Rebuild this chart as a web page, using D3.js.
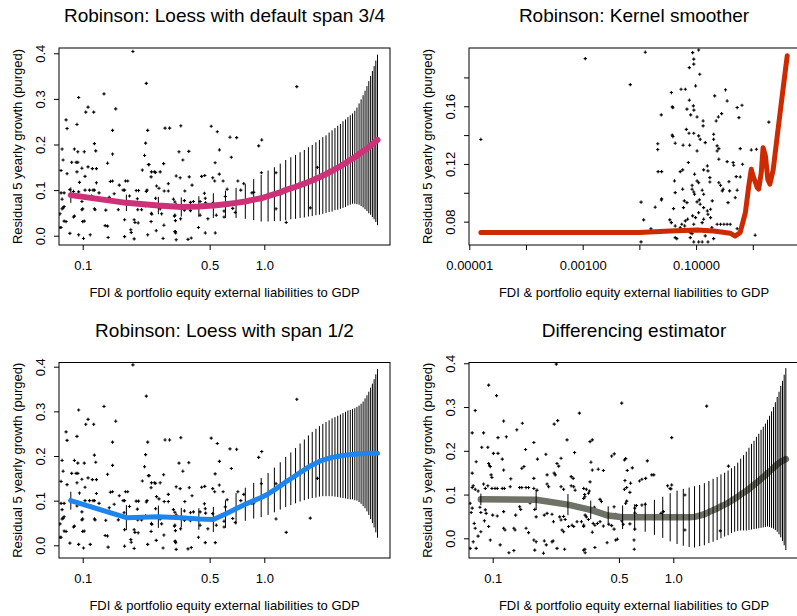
<!DOCTYPE html>
<html>
<head>
<meta charset="utf-8">
<script src="https://cdn.jsdelivr.net/npm/d3@7"></script>
<style>
  body { margin: 0; background: #fff; }
  svg { display: block; font-family: "Liberation Sans", Arial, sans-serif; }
</style>
</head>
<body>
<svg id="chart" width="797" height="616"></svg>
<script>
// ---------------- data ----------------
const panelTitles = [
  "Robinson: Loess with default span 3/4",
  "Robinson: Kernel smoother",
  "Robinson: Loess with span 1/2",
  "Differencing estimator"
];
const xAxisTitle = "FDI & portfolio equity external liabilities to GDP";
const yAxisTitle = "Residual 5 yearly growth (purged)";

// tick positions and labels
const xTicksMain = [0.1, 0.5, 1.0];
const xTickLabelsMain = ["0.1", "0.5", "1.0"];
const yTicksMain = [0.0, 0.1, 0.2, 0.3, 0.4];
const yTickLabelsMain = ["0.0", "0.1", "0.2", "0.3", "0.4"];
const xTicksKernel = [1e-5, 1e-4, 1e-3, 1e-2, 1e-1, 1];
const xTickLabelsKernel = ["0.00001", "", "0.00100", "", "0.10000", ""];
const yTicksKernel = [0.08, 0.10, 0.12, 0.14, 0.16, 0.18];
const yTickLabelsKernel = ["0.08", "", "0.12", "", "0.16", ""];

// evaluation grid of the fitted curves and their confidence bars
const gridX = [0.086,0.174,0.261,0.349,0.436,0.524,0.611,0.699,0.786,0.874,0.961,1.049,
  1.136,1.224,1.311,1.399,1.486,1.574,1.661,1.749,1.836,1.924,2.011,2.099,2.186,2.274,
  2.361,2.449,2.536,2.624,2.711,2.799,2.886,2.974,3.061,3.149,3.236,3.324,3.411,3.499,
  3.586,3.674,3.761,3.849,3.936,4.024,4.111,4.199];

// loess, span 3/4: fitted values and half-width of the bars
const fitSpan34 = [0.089,0.072,0.066,0.063,0.064,0.066,0.069,0.072,0.075,0.079,0.082,0.087,
  0.091,0.095,0.100,0.104,0.107,0.111,0.114,0.118,0.121,0.125,0.128,0.132,0.135,0.139,
  0.142,0.146,0.149,0.152,0.156,0.159,0.163,0.166,0.169,0.172,0.175,0.179,0.182,0.185,
  0.188,0.191,0.194,0.198,0.201,0.204,0.207,0.210];
const bandSpan34 = [0.017,0.018,0.019,0.021,0.0225,0.027,0.030,0.033,0.038,0.045,0.051,0.056,
  0.059,0.063,0.066,0.068,0.070,0.072,0.074,0.076,0.078,0.080,0.082,0.084,0.085,0.087,
  0.089,0.090,0.092,0.093,0.095,0.096,0.097,0.098,0.099,0.102,0.106,0.111,0.117,0.123,
  0.130,0.137,0.145,0.152,0.160,0.168,0.177,0.187];

// loess, span 1/2
const fitSpan12 = [0.100,0.062,0.064,0.062,0.059,0.058,0.070,0.082,0.092,0.100,0.107,0.115,
  0.124,0.133,0.142,0.149,0.156,0.163,0.169,0.175,0.180,0.184,0.188,0.191,0.193,0.195,
  0.197,0.198,0.199,0.200,0.201,0.202,0.203,0.203,0.204,0.204,0.205,0.205,0.205,0.205,
  0.206,0.206,0.206,0.206,0.206,0.206,0.206,0.206];
const bandSpan12 = [0.020,0.028,0.025,0.022,0.024,0.028,0.031,0.035,0.037,0.040,0.044,0.047,
  0.050,0.053,0.056,0.059,0.062,0.065,0.068,0.071,0.074,0.077,0.079,0.081,0.083,0.085,
  0.087,0.089,0.091,0.093,0.095,0.097,0.099,0.100,0.101,0.103,0.105,0.108,0.112,0.117,
  0.123,0.130,0.138,0.147,0.156,0.166,0.177,0.189];

// differencing estimator
const fitDiff = [0.089,0.088,0.077,0.065,0.052,0.048,0.048,0.048,0.048,0.048,0.048,0.048,
  0.048,0.048,0.049,0.052,0.055,0.060,0.064,0.068,0.073,0.077,0.081,0.086,0.090,0.095,
  0.100,0.104,0.108,0.113,0.118,0.122,0.127,0.131,0.136,0.140,0.144,0.149,0.153,0.157,
  0.161,0.165,0.169,0.172,0.175,0.177,0.179,0.181];
const bandDiff = [0.013,0.023,0.024,0.021,0.021,0.027,0.030,0.033,0.040,0.047,0.055,0.061,
  0.065,0.068,0.070,0.070,0.071,0.071,0.072,0.072,0.073,0.073,0.074,0.074,0.075,0.078,
  0.082,0.086,0.090,0.094,0.098,0.101,0.105,0.108,0.112,0.115,0.118,0.122,0.127,0.133,
  0.139,0.146,0.154,0.163,0.173,0.183,0.195,0.208];

// kernel smoother curve
const kernelX = [1.6e-5,0.001,0.01,0.035,0.105,0.205,0.4,0.49,0.6,0.74,0.85,0.94,1.01,1.2,
  1.27,1.41,1.52,1.67,1.84,2.0,2.29,2.7,3.3,4.05];
const kernelY = [0.0724,0.0724,0.0724,0.0735,0.0742,0.0735,0.072,0.070,0.0725,0.0862,0.1048,
  0.1163,0.1117,0.1036,0.1025,0.114,0.1313,0.1256,0.1094,0.106,0.116,0.1394,0.1672,0.195];

// observations: [liabilities to GDP, residual growth]
const robinsonPts = [
  [0.189,0.404],[0.224,0.334],[0.095,0.303],[0.131,0.311],[0.107,0.282],[0.104,0.271],[0.115,0.271],
  [0.152,0.278],[0.081,0.254],[0.082,0.235],[0.093,0.244],[0.284,0.236],[0.301,0.236],[0.146,0.231],
  [0.228,0.231],[0.222,0.203],[0.116,0.202],[0.077,0.19],[0.090,0.19],[0.118,0.186],[0.094,0.184],
  [0.102,0.184],[0.146,0.179],[0.219,0.176],[0.078,0.166],[0.094,0.161],[0.087,0.161],[0.092,0.161],
  [0.137,0.159],[0.230,0.156],[0.232,0.156],[0.279,0.158],[0.099,0.148],[0.107,0.151],[0.113,0.147],
  [0.119,0.147],[0.073,0.144],[0.076,0.143],[0.093,0.14],[0.248,0.14],[0.252,0.139],[0.239,0.14],
  [0.267,0.14],[0.082,0.136],[0.213,0.144],[0.238,0.129],[0.327,0.131],[0.103,0.13],[0.172,0.12],
  [0.177,0.12],[0.142,0.119],[0.146,0.12],[0.119,0.116],[0.159,0.111],[0.096,0.117],[0.296,0.114],
  [0.255,0.109],[0.263,0.104],[0.226,0.1],[0.224,0.097],[0.281,0.098],[0.296,0.098],[0.085,0.101],
  [0.089,0.097],[0.103,0.1],[0.109,0.1],[0.114,0.1],[0.116,0.1],[0.095,0.096],[0.076,0.094],
  [0.079,0.094],[0.167,0.1],[0.17,0.1],[0.197,0.099],[0.203,0.099],[0.093,0.088],[0.123,0.094],
  [0.149,0.092],[0.14,0.084],[0.112,0.087],[0.181,0.087],[0.077,0.08],[0.252,0.082],[0.316,0.08],
  [0.099,0.075],[0.131,0.078],[0.169,0.073],[0.2,0.081],[0.078,0.061],[0.077,0.059],[0.079,0.064],
  [0.1,0.059],[0.099,0.057],[0.116,0.059],[0.117,0.057],[0.157,0.057],[0.134,0.056],[0.222,0.066],
  [0.201,0.057],[0.211,0.057],[0.075,0.048],[0.073,0.045],[0.09,0.043],[0.089,0.041],[0.32,0.043],
  [0.322,0.045],[0.24,0.047],[0.239,0.049],[0.079,0.032],[0.081,0.031],[0.1,0.031],[0.102,0.032],
  [0.133,0.022],[0.137,0.021],[0.17,0.035],[0.192,0.035],[0.194,0.029],[0.202,0.028],[0.238,0.031],
  [0.28,0.023],[0.075,0.018],[0.076,0.018],[0.184,0.013],[0.185,0.007],[0.254,0.011],[0.085,0.005],
  [0.095,0.002],[0.11,0.002],[0.101,-0.006],[0.138,-0.004],[0.17,-0.002],[0.192,-0.007],[0.277,-0.006],
  [0.327,-0.009],[0.228,0.002],[0.324,0.009],[0.324,0.033],[0.267,0.059],[0.272,0.048],[0.327,0.068],
  [0.347,0.241],[0.51,0.24],[0.551,0.228],[0.647,0.216],[0.704,0.215],[0.968,0.21],[0.931,0.197],
  [0.339,0.184],[0.384,0.185],[0.356,0.166],[0.566,0.188],[0.536,0.16],[0.658,0.172],[0.386,0.129],
  [0.344,0.127],[0.452,0.13],[0.47,0.132],[0.52,0.127],[0.533,0.12],[0.565,0.135],[0.593,0.12],
  [0.4,0.111],[0.715,0.12],[0.771,0.114],[0.365,0.098],[0.468,0.093],[0.624,0.102],[0.742,0.1],
  [0.855,0.094],[0.874,0.095],[0.964,0.138],[1.16,0.138],[0.322,0.074],[0.363,0.077],[0.392,0.073],
  [0.407,0.075],[0.443,0.075],[0.473,0.082],[0.475,0.072],[0.52,0.071],[0.582,0.068],[0.61,0.086],
  [0.67,0.06],[0.363,0.056],[0.392,0.055],[0.6,0.054],[0.692,0.051],[0.346,0.037],[0.443,0.045],
  [0.489,0.037],[0.544,0.045],[0.6,0.041],[1.16,0.059],[1.32,0.029],[0.434,0.018],[0.322,0.009],
  [0.325,0.006],[0.473,0.006],[0.537,0.006],[0.396,-0.005],[0.38,-0.008],[1.51,0.327],[1.96,0.15],
  [1.79,0.061]
];

const kernelPts = [
  [1.6e-5,0.137],[0.00111,0.193],[0.0069,0.175],[0.0127,0.1975],[0.0107,0.0935],[0.0119,0.0812],
  [0.016,0.075],[0.0107,0.066],[0.019,0.09],[0.0247,0.0958],[0.0244,0.095],[0.0211,0.134],[0.0211,0.13],
  [0.0214,0.1147],[0.0247,0.1147],[0.0243,0.154],[0.087,0.1972],[0.111,0.199],[0.091,0.1927],
  [0.091,0.1892],[0.076,0.1868],[0.116,0.1822],[0.0543,0.1718],[0.0646,0.1718],[0.098,0.1741],
  [0.0366,0.1695],[0.33,0.1714],[0.213,0.1672],[0.353,0.1637],[0.076,0.1642],[0.038,0.1596],
  [0.039,0.159],[0.069,0.158],[0.0895,0.1603],[0.0915,0.1573],[0.53,0.1591],[0.645,0.1607],
  [0.0803,0.154],[0.104,0.1526],[0.247,0.1526],[0.282,0.1549],[0.57,0.1521],[0.133,0.1498],
  [0.133,0.1464],[0.226,0.1498],[0.0673,0.144],[0.038,0.14],[0.039,0.139],[0.075,0.1413],
  [0.091,0.1413],[0.111,0.1395],[0.118,0.1371],[0.204,0.1406],[0.204,0.1371],[0.145,0.1348],
  [0.0428,0.1344],[0.059,0.133],[0.077,0.133],[0.235,0.1325],[0.252,0.1306],[0.235,0.129],
  [0.104,0.129],[0.6,0.1306],[0.94,0.1297],[1.16,0.1302],[1.92,0.149],[0.252,0.1233],[0.073,0.121],
  [0.353,0.1216],[0.45,0.121],[0.46,0.1191],[0.158,0.1186],[0.66,0.1198],[0.0525,0.1147],
  [0.058,0.1159],[0.094,0.1129],[0.136,0.1159],[0.162,0.1152],[0.175,0.1105],[0.175,0.1075],
  [0.38,0.1077],[0.51,0.1112],[0.6,0.111],[0.0416,0.1082],[0.104,0.1082],[0.111,0.107],[0.085,0.1052],
  [0.252,0.107],[0.27,0.1052],[0.058,0.1025],[0.085,0.1025],[0.091,0.1006],[0.094,0.099],[0.128,0.1018],
  [0.136,0.099],[0.3,0.1025],[0.29,0.1013],[0.39,0.1013],[0.53,0.1018],[0.0428,0.1001],[0.062,0.0944],
  [0.069,0.0932],[0.104,0.0937],[0.114,0.0951],[0.118,0.0921],[0.193,0.0944],[0.366,0.0932],
  [0.49,0.0966],[0.04,0.089],[0.06,0.0897],[0.136,0.0897],[0.158,0.0874],[0.18,0.0886],[0.111,0.0862],
  [0.087,0.084],[0.098,0.0828],[0.162,0.0851],[0.18,0.0828],[0.0646,0.0805],[0.071,0.0817],
  [0.0344,0.0812],[0.0366,0.0793],[0.136,0.0817],[0.128,0.0793],[0.235,0.0782],[0.27,0.0782],
  [0.31,0.0782],[0.353,0.0782],[0.4,0.0782],[0.0428,0.077],[0.0525,0.0758],[0.056,0.0782],
  [0.063,0.077],[0.091,0.0782],[0.19,0.0758],[0.53,0.0751],[0.079,0.0724],[0.085,0.0717],
  [0.0428,0.0689],[0.0457,0.0682],[0.079,0.0689],[0.145,0.0701],[0.204,0.0682],[1.1,0.0706],
  [0.091,0.0659],[0.111,0.0659],[0.128,0.0659],[0.162,0.0659]
];

const diffPts = [
  [0.225,0.398],[0.095,0.35],[0.105,0.326],[0.08,0.292],[0.077,0.241],[0.089,0.241],[0.115,0.268],
  [0.146,0.263],[0.136,0.248],[0.119,0.232],[0.107,0.23],[0.219,0.261],[0.229,0.269],[0.087,0.208],
  [0.094,0.208],[0.169,0.219],[0.152,0.203],[0.197,0.192],[0.284,0.196],[0.302,0.286],[0.258,0.225],
  [0.081,0.175],[0.101,0.194],[0.107,0.194],[0.113,0.181],[0.095,0.171],[0.096,0.166],[0.097,0.164],
  [0.077,0.149],[0.098,0.145],[0.099,0.139],[0.115,0.156],[0.126,0.136],[0.145,0.16],[0.149,0.164],
  [0.177,0.181],[0.169,0.137],[0.2,0.145],[0.222,0.145],[0.219,0.149],[0.227,0.171],[0.232,0.165],
  [0.239,0.183],[0.272,0.141],[0.279,0.137],[0.078,0.12],[0.077,0.116],[0.08,0.112],[0.083,0.108],
  [0.089,0.124],[0.091,0.114],[0.094,0.12],[0.099,0.114],[0.103,0.114],[0.106,0.114],[0.113,0.114],
  [0.116,0.114],[0.125,0.118],[0.141,0.116],[0.145,0.116],[0.153,0.116],[0.158,0.116],[0.169,0.114],
  [0.176,0.11],[0.2,0.124],[0.204,0.118],[0.239,0.118],[0.247,0.112],[0.272,0.12],[0.281,0.118],
  [0.286,0.11],[0.319,0.114],[0.075,0.08],[0.077,0.069],[0.076,0.059],[0.085,0.071],[0.086,0.059],
  [0.091,0.065],[0.092,0.057],[0.1,0.053],[0.106,0.051],[0.115,0.061],[0.12,0.088],[0.134,0.053],
  [0.141,0.072],[0.143,0.066],[0.158,0.088],[0.161,0.081],[0.171,0.066],[0.174,0.049],[0.193,0.053],
  [0.2,0.057],[0.213,0.055],[0.217,0.038],[0.235,0.049],[0.239,0.042],[0.247,0.05],[0.252,0.043],
  [0.275,0.03],[0.281,0.027],[0.31,0.038],[0.319,0.03],[0.325,0.053],[0.079,0.034],[0.08,0.023],
  [0.09,0.04],[0.095,0.027],[0.086,0.015],[0.083,0.005],[0.078,-0.008],[0.115,0.023],[0.117,0.019],
  [0.131,0.023],[0.133,0.019],[0.153,0.023],[0.158,0.013],[0.169,-0.004],[0.174,-0.008],[0.193,-0.006],
  [0.213,-0.008],[0.216,-0.006],[0.242,0.019],[0.247,0.015],[0.263,0.027],[0.293,0.038],[0.319,0.027],
  [0.075,-0.023],[0.081,-0.023],[0.097,-0.004],[0.11,-0.015],[0.123,-0.033],[0.131,-0.028],
  [0.171,-0.027],[0.191,-0.034],[0.198,-0.015],[0.227,-0.023],[0.25,-0.025],[0.319,-0.027],
  [0.325,-0.033],[0.323,0.1],[0.319,0.091],
  [0.518,0.309],[0.98,0.23],[0.346,0.221],[0.356,0.225],[0.456,0.188],[0.471,0.193],[0.536,0.179],
  [0.545,0.182],[0.718,0.177],[0.35,0.174],[0.593,0.161],[0.356,0.156],[0.384,0.158],[0.41,0.155],
  [0.556,0.155],[0.76,0.145],[0.78,0.145],[0.703,0.137],[0.67,0.135],[0.65,0.131],[0.346,0.129],
  [0.54,0.132],[0.58,0.126],[0.93,0.12],[0.97,0.113],[0.33,0.112],[0.343,0.108],[0.339,0.103],
  [0.536,0.112],[0.552,0.116],[0.324,0.095],[0.393,0.089],[0.4,0.084],[0.575,0.105],[0.552,0.085],
  [0.545,0.08],[0.625,0.075],[0.612,0.069],[0.67,0.076],[0.7,0.078],[0.47,0.072],[0.324,0.067],
  [0.339,0.063],[0.365,0.071],[0.384,0.061],[0.397,0.061],[0.48,0.055],[0.536,0.049],[0.612,0.058],
  [0.625,0.053],[0.855,0.057],[0.88,0.061],[1.16,0.099],[1.16,0.019],[0.33,0.049],[0.339,0.043],
  [0.36,0.034],[0.368,0.03],[0.38,0.034],[0.393,0.038],[0.41,0.028],[0.44,0.032],[0.456,0.029],
  [0.518,0.04],[0.528,0.032],[0.47,0.021],[0.575,0.033],[0.612,0.021],[0.356,0.014],[0.48,-0.004],
  [0.49,-0.002],[0.43,-0.01],[0.606,-0.004],[0.608,-0.025],[0.368,-0.021],[0.324,-0.025],
  [1.53,0.302],[1.82,0.017],[2.02,0.165],[0.98,0.122],[0.96,0.114]
];

// ---------------- layout ----------------
const svg = d3.select("#chart");
const FONT = "'Liberation Sans', Arial, sans-serif";

const panels = [
  { title: panelTitles[0], left: 59, right: 390, top: 48, bottom: 245,
    xDomain: [Math.pow(10, -1.1305), Math.pow(10, 0.692)], yDomain: [-0.0204, 0.4116],
    xTicks: xTicksMain, xLabels: xTickLabelsMain, yTicks: yTicksMain, yLabels: yTickLabelsMain,
    points: robinsonPts, fit: fitSpan34, band: bandSpan34,
    color: "#CD3278", lineWidth: 6, lineOnTop: true },
  { title: panelTitles[1], left: 469, right: 799, top: 48, bottom: 245,
    xDomain: [Math.pow(10, -5.005), Math.pow(10, 0.815)], yDomain: [0.0638, 0.2004],
    xTicks: xTicksKernel, xLabels: xTickLabelsKernel, yTicks: yTicksKernel, yLabels: yTickLabelsKernel,
    points: kernelPts, curveX: kernelX, curveY: kernelY,
    color: "#CC2A00", lineWidth: 5, lineOnTop: true },
  { title: panelTitles[2], left: 59, right: 390, top: 362.5, bottom: 558,
    xDomain: [Math.pow(10, -1.1305), Math.pow(10, 0.692)], yDomain: [-0.0284, 0.4094],
    xTicks: xTicksMain, xLabels: xTickLabelsMain, yTicks: yTicksMain, yLabels: yTickLabelsMain,
    points: robinsonPts, fit: fitSpan12, band: bandSpan12,
    color: "#1C86EE", lineWidth: 5, lineOnTop: true },
  { title: panelTitles[3], left: 469, right: 799, top: 362.5, bottom: 558,
    xDomain: [Math.pow(10, -1.1312), Math.pow(10, 0.696)], yDomain: [-0.045, 0.4018],
    xTicks: xTicksMain, xLabels: xTickLabelsMain, yTicks: yTicksMain, yLabels: yTickLabelsMain,
    points: diffPts, fit: fitDiff, band: bandDiff,
    color: "#6F7266", lineWidth: 6.5, lineOnTop: false }
];

const plusPath = "M-1.6,0H1.6M0,-1.6V1.6";

panels.forEach((p, idx) => {
  const g = svg.append("g");
  const x = d3.scaleLog().domain(p.xDomain).range([p.left, p.right]);
  const y = d3.scaleLinear().domain(p.yDomain).range([p.bottom, p.top]);

  const clipId = "clip" + idx;
  g.append("clipPath").attr("id", clipId).append("rect")
    .attr("x", p.left).attr("y", p.top)
    .attr("width", p.right - p.left).attr("height", p.bottom - p.top);
  const plot = g.append("g").attr("clip-path", `url(#${clipId})`);

  // scatter of observations
  plot.append("g").selectAll("path").data(p.points).join("path")
    .attr("d", plusPath)
    .attr("transform", d => `translate(${x(d[0])},${y(d[1])})`)
    .attr("stroke", "#000").attr("stroke-width", 1.1).attr("fill", "none");

  const drawBars = () => {
    plot.append("g").selectAll("line").data(gridX).join("line")
      .attr("x1", d => x(d)).attr("x2", d => x(d))
      .attr("y1", (d, i) => y(p.fit[i] - p.band[i]))
      .attr("y2", (d, i) => y(p.fit[i] + p.band[i]))
      .attr("stroke", "#000").attr("stroke-width", 1);
  };
  const drawFit = () => {
    let line, data;
    if (p.fit) {
      data = p.fit.map((v, i) => [gridX[i], v]);
    } else {
      data = p.curveX.map((v, i) => [v, p.curveY[i]]);
    }
    line = d3.line().x(d => x(d[0])).y(d => y(d[1]));
    plot.append("path").datum(data).attr("d", line)
      .attr("fill", "none").attr("stroke", p.color)
      .attr("stroke-width", p.lineWidth)
      .attr("stroke-linejoin", "round").attr("stroke-linecap", "round");
  };

  if (p.fit) {
    if (p.lineOnTop) { drawBars(); drawFit(); } else { drawFit(); drawBars(); }
  } else {
    drawFit();
  }

  // frame
  g.append("rect").attr("x", p.left).attr("y", p.top)
    .attr("width", p.right - p.left).attr("height", p.bottom - p.top)
    .attr("fill", "none").attr("stroke", "#000").attr("stroke-width", 1);

  // x axis
  const xAxis = d3.axisBottom(x).tickValues(p.xTicks)
    .tickFormat((d, i) => p.xLabels[i]).tickSize(5).tickSizeOuter(0);
  g.append("g").attr("transform", `translate(0,${p.bottom})`).call(xAxis)
    .call(a => a.select(".domain").remove())
    .attr("font-family", FONT).attr("font-size", 13)
    .call(a => a.selectAll(".tick text").attr("y", 25).attr("dy", "0").attr("fill", "#000"));

  // y axis with labels parallel to the axis
  const yAxis = d3.axisLeft(y).tickValues(p.yTicks)
    .tickFormat((d, i) => p.yLabels[i]).tickSize(5).tickSizeOuter(0);
  g.append("g").attr("transform", `translate(${p.left},0)`).call(yAxis)
    .call(a => a.select(".domain").remove())
    .attr("font-family", FONT).attr("font-size", 13)
    .call(a => a.selectAll(".tick text")
      .attr("transform", "rotate(-90)").attr("x", 0).attr("y", -14)
      .attr("dy", "0").attr("text-anchor", "middle").attr("fill", "#000"));

  const cx = (p.left + p.right) / 2;
  const cy = (p.top + p.bottom) / 2;

  g.append("text").attr("x", cx).attr("y", p.top - 26)
    .attr("text-anchor", "middle").attr("font-family", FONT).attr("font-size", 19)
    .attr("fill", "#000").text(p.title);

  g.append("text").attr("x", cx).attr("y", p.bottom + 51.5)
    .attr("text-anchor", "middle").attr("font-family", FONT).attr("font-size", 13)
    .attr("fill", "#000").text(xAxisTitle);

  g.append("text")
    .attr("transform", `translate(${p.left - 37.5},${cy}) rotate(-90)`)
    .attr("text-anchor", "middle").attr("font-family", FONT).attr("font-size", 13)
    .attr("fill", "#000").text(yAxisTitle);
});
</script>
</body>
</html>
